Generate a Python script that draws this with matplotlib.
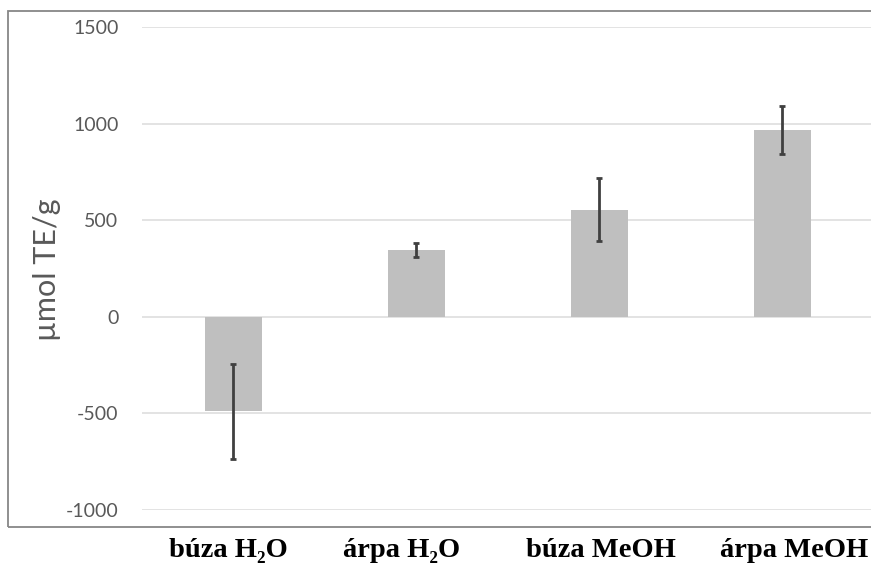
import matplotlib.pyplot as plt
from matplotlib.patches import Rectangle
from matplotlib.transforms import blended_transform_factory

# antioxidant capacity per extract
categories = ["búza H₂O", "árpa H₂O", "búza MeOH", "árpa MeOH"]
means = [-490, 345, 555, 968]
errors = [248, 38, 165, 124]
yticks = [-1000, -500, 0, 500, 1000, 1500]

fig = plt.figure(figsize=(8.71, 5.68), dpi=100)
ax = fig.add_axes([0.163, 0.1021, 0.8404, 0.8504])

# outer frame around the chart
fig.patches.append(Rectangle((8 / 871, 1 - 527 / 568), 1.0, (527 - 11) / 568,
                             transform=fig.transFigure, fill=False,
                             edgecolor="#878787", linewidth=1.3, zorder=0))

x = range(len(categories))
ax.bar(x, means, width=0.31, color="#BFBFBF", zorder=2)
ax.errorbar(x, means, yerr=errors, fmt="none", ecolor="#404040",
            elinewidth=2.0, capsize=2.5, capthick=2.0, zorder=3)

ax.set_xlim(-0.5, 3.5)
ax.set_ylim(-1000, 1500)
ax.set_yticks(yticks)
ax.set_yticklabels([str(v) for v in yticks], fontsize=14, color="#595959",
                   family="Lato")
ax.tick_params(axis="y", length=0, pad=17)
ax.set_xticks([])
ax.grid(axis="y", color="#E3E3E3", linewidth=1.4, zorder=0)
for s in ax.spines.values():
    s.set_visible(False)

fig.text(47 / 871, 1 - 270 / 568, "µmol TE/g", rotation=90, fontsize=22,
         color="#595959", family="Lato", ha="center", va="center")

# category names sit below the frame, not quite centred on the bars
trans = blended_transform_factory(ax.transData, fig.transFigure)
offsets = [-0.03, -0.079, 0.008, 0.063]
for i, lab in enumerate(categories):
    ax.text(i + offsets[i], 1 - 557 / 568, lab, transform=trans,
            fontsize=20.5, fontweight="bold", family=["Liberation Serif", "DejaVu Serif"],
            ha="center", va="baseline", clip_on=False)

fig.savefig("out.png", dpi=100)
